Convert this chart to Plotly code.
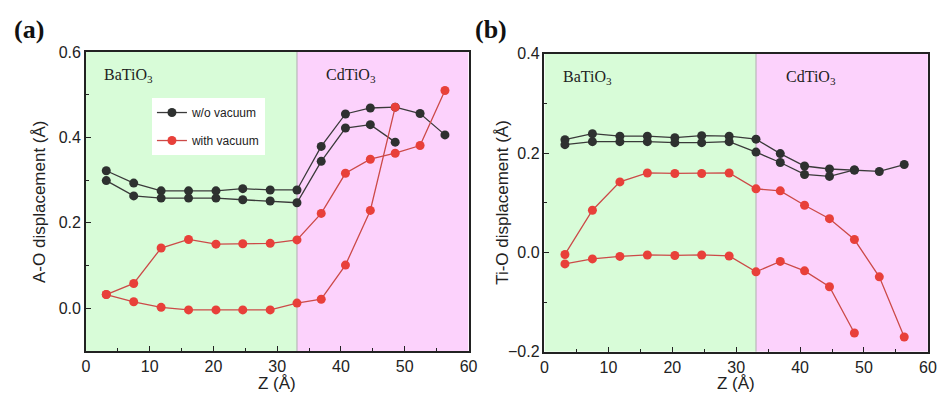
import plotly.graph_objects as go

# ---------------- data ----------------
z_full = [3.2, 7.5, 11.8, 16.1, 20.4, 24.6, 28.9, 33.1, 36.9, 40.7, 44.6, 48.5, 52.4, 56.3]
z_short = [3.2, 7.5, 11.8, 16.1, 20.4, 24.6, 28.9, 33.1, 36.9, 40.7, 44.6, 48.5]

# panel (a): A-O displacement
a_novac_1 = [0.322, 0.293, 0.275, 0.275, 0.275, 0.280, 0.277, 0.277, 0.379, 0.455, 0.469, 0.471, 0.456, 0.406]
a_novac_2 = [0.299, 0.263, 0.258, 0.258, 0.258, 0.254, 0.251, 0.247, 0.344, 0.422, 0.430, 0.389]
a_vac_1 = [0.032, 0.058, 0.141, 0.161, 0.150, 0.151, 0.152, 0.160, 0.222, 0.316, 0.349, 0.363, 0.381, 0.510]
a_vac_2 = [0.032, 0.015, 0.002, -0.004, -0.004, -0.004, -0.004, 0.012, 0.021, 0.101, 0.229, 0.471]

# panel (b): Ti-O displacement
b_novac_1 = [0.227, 0.239, 0.234, 0.234, 0.231, 0.235, 0.234, 0.228, 0.199, 0.174, 0.168, 0.166, 0.163, 0.177]
b_novac_2 = [0.217, 0.223, 0.223, 0.223, 0.221, 0.221, 0.223, 0.202, 0.181, 0.157, 0.153, 0.166]
b_vac_1 = [-0.004, 0.085, 0.142, 0.160, 0.159, 0.159, 0.160, 0.128, 0.124, 0.095, 0.068, 0.026, -0.049, -0.170]
b_vac_2 = [-0.023, -0.013, -0.008, -0.005, -0.006, -0.005, -0.007, -0.039, -0.018, -0.037, -0.069, -0.162]

interface_z = 33.1
z_range = [0, 60]
a_range = [-0.1, 0.6]
b_range = [-0.2, 0.4]
legend_names = ["w/o vacuum", "with vacuum"]
x_title = "Z (Å)"
a_title = "A-O displacement (Å)"
b_title = "Ti-O displacement (Å)"

# ---------------- styles ----------------
BLACK_M = "#2e3130"
BLACK_L = "#3a3a3a"
RED_M = "#e8403a"
RED_L = "#cc4a48"
GREEN_BG = "#d8fcd8"
PINK_BG = "#fcd2fc"

fig = go.Figure()


def add_series(x, y, xa, ya, mcol, lcol, name=None, show=False, group=None):
    fig.add_trace(go.Scatter(
        x=x, y=y, xaxis=xa, yaxis=ya, mode="lines+markers",
        line=dict(color=lcol, width=1.3),
        marker=dict(color=mcol, size=9),
        name=name, showlegend=show, legendgroup=group,
    ))


add_series(z_full, a_novac_1, "x", "y", BLACK_M, BLACK_L, legend_names[0], True, "g1")
add_series(z_short, a_novac_2, "x", "y", BLACK_M, BLACK_L, group="g1")
add_series(z_full, a_vac_1, "x", "y", RED_M, RED_L, legend_names[1], True, "g2")
add_series(z_short, a_vac_2, "x", "y", RED_M, RED_L, group="g2")

add_series(z_full, b_novac_1, "x2", "y2", BLACK_M, BLACK_L, group="g1")
add_series(z_short, b_novac_2, "x2", "y2", BLACK_M, BLACK_L, group="g1")
add_series(z_full, b_vac_1, "x2", "y2", RED_M, RED_L, group="g2")
add_series(z_short, b_vac_2, "x2", "y2", RED_M, RED_L, group="g2")

# background regions
for xr, yr, yrange in (("x", "y", a_range), ("x2", "y2", b_range)):
    fig.add_shape(type="rect", xref=xr, yref=yr, x0=z_range[0], x1=interface_z,
                  y0=yrange[0], y1=yrange[1], fillcolor=GREEN_BG, line_width=0, layer="below")
    fig.add_shape(type="rect", xref=xr, yref=yr, x0=interface_z, x1=z_range[1],
                  y0=yrange[0], y1=yrange[1], fillcolor=PINK_BG, line_width=0, layer="below")
    fig.add_shape(type="line", xref=xr, yref=yr, x0=interface_z, x1=interface_z,
                  y0=yrange[0], y1=yrange[1], line=dict(color="#b8b8b8", width=1.2), layer="below")

W, H = 949, 403
sans = "Liberation Sans, Arial, sans-serif"
tickfont = dict(family=sans, size=16, color="#222")
titlefont = dict(family=sans, size=17, color="#222")

axis_common = dict(
    showline=True, linecolor="#222", linewidth=1.5, mirror=True,
    ticks="inside", ticklen=5, tickwidth=1.3, tickcolor="#222",
    showgrid=False, zeroline=False, tickfont=tickfont,
    minor=dict(ticks="inside", ticklen=3, tickwidth=1.2, tickcolor="#222", showgrid=False),
)

fig.update_layout(
    width=W, height=H,
    margin=dict(l=0, r=0, t=0, b=0),
    paper_bgcolor="white", plot_bgcolor="white",
    xaxis=dict(domain=[83 / W, 471 / W], range=z_range, dtick=10, anchor="y", **axis_common),
    yaxis=dict(domain=[1 - 358 / H, 1 - 46 / H], range=a_range, dtick=0.2, tickformat=".1f",
               anchor="x", **axis_common),
    xaxis2=dict(domain=[548 / W, 936.7 / W], range=z_range, dtick=10, anchor="y2", **axis_common),
    yaxis2=dict(domain=[1 - 359 / H, 1 - 47.7 / H], range=b_range, dtick=0.2, tickformat=".1f",
                anchor="x2", **axis_common),
    legend=dict(x=150 / W, y=1 - 94 / H, xanchor="left", yanchor="top",
                bgcolor="white", borderwidth=0, traceorder="grouped", tracegroupgap=9,
                font=dict(family=sans, size=12, color="#222"),
                itemwidth=30),
)
fig.update_xaxes(minor_dtick=5)
fig.update_yaxes(minor_dtick=0.1)

# axis titles
fig.add_annotation(text=x_title, xref="x domain", yref="paper", x=0.5, y=1 - 392 / H,
                   showarrow=False, xanchor="center", yanchor="middle", font=titlefont)
fig.add_annotation(text=x_title, xref="x2 domain", yref="paper", x=0.5, y=1 - 392 / H,
                   showarrow=False, xanchor="center", yanchor="middle", font=titlefont)
fig.add_annotation(text=a_title, xref="paper", yref="y domain", x=36 / W, y=0.5, textangle=-90,
                   showarrow=False, xanchor="center", yanchor="middle", font=titlefont)
fig.add_annotation(text=b_title, xref="paper", yref="y2 domain", x=506 / W, y=0.5, textangle=-90,
                   showarrow=False, xanchor="center", yanchor="middle", font=titlefont)

serif = "Liberation Serif, Times New Roman, serif"
labels = [
    ("BaTiO<sub>3</sub>", "x domain", "y domain", 0.111, 0.923),
    ("CdTiO<sub>3</sub>", "x domain", "y domain", 0.693, 0.923),
    ("BaTiO<sub>3</sub>", "x2 domain", "y2 domain", 0.113, 0.92),
    ("CdTiO<sub>3</sub>", "x2 domain", "y2 domain", 0.695, 0.92),
]
for txt, xr, yr, xv, yv in labels:
    fig.add_annotation(text=txt, xref=xr, yref=yr, x=xv, y=yv, showarrow=False,
                       xanchor="center", yanchor="middle",
                       font=dict(family=serif, size=16, color="#222"))

fig.add_annotation(text="<b>(a)</b>", xref="paper", yref="paper", x=8 / W, y=1 - 22 / H,
                   xanchor="left", yanchor="middle", showarrow=False,
                   font=dict(family=serif, size=26, color="#111"))
fig.add_annotation(text="<b>(b)</b>", xref="paper", yref="paper", x=476 / W, y=1 - 22 / H,
                   xanchor="left", yanchor="middle", showarrow=False,
                   font=dict(family=serif, size=26, color="#111"))

fig.write_html("out.html")
